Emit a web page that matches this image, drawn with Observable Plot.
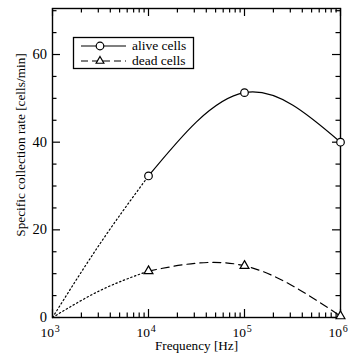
<!DOCTYPE html>
<html><head><meta charset="utf-8">
<script src="https://cdn.jsdelivr.net/npm/d3@7"></script>
<script src="https://cdn.jsdelivr.net/npm/@observablehq/plot@0.6"></script>
<style>
body{margin:0;background:#fff;}
#wrap{position:relative;width:360px;height:363px;}
</style></head><body><div id="wrap"></div>
<script>
// measured points
const frequencies = [1e4, 1e5, 1e6];
const aliveRates = [32.3, 51.3, 40.0];
const deadRates = [10.6, 11.8, 0.3];
// low-frequency (dotted) extrapolation
const lowFreq = [1e3, 3162, 1e4];
const aliveLowRates = [0, 17.0, 32.3];
const deadLowRates = [0, 6.2, 10.6];
// ticks
const xMajorTicks = [1e3, 1e4, 1e5, 1e6];
const xExponents = ["3", "4", "5", "6"];
const xMinorTicks = [2,3,4,5,6,7,8,9].flatMap(m => [1e3, 1e4, 1e5].map(d => m * d));
const yMajorTicks = [0, 20, 40, 60];
const yMinorTicks = [5,10,15,25,30,35,45,50,55,65,70];
const xLabel = "Frequency [Hz]";
const yLabel = "Specific collection rate [cells/min]";
const seriesNames = ["alive cells", "dead cells"];

const alive = frequencies.map((f, i) => ({f, v: aliveRates[i]}));
const dead = frequencies.map((f, i) => ({f, v: deadRates[i]}));
const aliveLow = lowFreq.map((f, i) => ({f, v: aliveLowRates[i]}));
const deadLow = lowFreq.map((f, i) => ({f, v: deadLowRates[i]}));

const X0 = 1e3, X1 = 1e6, Y0 = 0, Y1 = 70.5;
const W = 360, H = 363, mL = 52, mR = 20, mT = 8, mB = 46;
const pxPerDecade = (W - mL - mR) / 3;
const pxPerUnit = (H - mT - mB) / (Y1 - Y0);
const xf = px => Math.pow(10, px / pxPerDecade);
const yu = px => px / pxPerUnit;
const majL = 8, minL = 4.5;
const serif = "'Liberation Serif', 'Times New Roman', serif";
const sw = 1.2;

const chart = Plot.plot({
  width: W, height: H,
  marginLeft: mL, marginRight: mR, marginTop: mT, marginBottom: mB,
  style: {fontFamily: serif, background: "#fff", color: "#000"},
  x: {type: "log", domain: [X0, X1], axis: null},
  y: {domain: [Y0, Y1], axis: null},
  marks: [
    Plot.frame({stroke: "#000", strokeWidth: 1.4}),
    // bottom / top x ticks (inward)
    Plot.ruleX(xMajorTicks, {x: d => d, y1: Y0, y2: Y0 + yu(majL), stroke: "#000", strokeWidth: sw}),
    Plot.ruleX(xMinorTicks, {x: d => d, y1: Y0, y2: Y0 + yu(minL), stroke: "#000", strokeWidth: sw}),
    Plot.ruleX(xMajorTicks, {x: d => d, y1: Y1, y2: Y1 - yu(majL), stroke: "#000", strokeWidth: sw}),
    Plot.ruleX(xMinorTicks, {x: d => d, y1: Y1, y2: Y1 - yu(minL), stroke: "#000", strokeWidth: sw}),
    // left / right y ticks (inward)
    Plot.ruleY(yMajorTicks, {y: d => d, x1: X0, x2: X0 * xf(majL), stroke: "#000", strokeWidth: sw}),
    Plot.ruleY(yMinorTicks, {y: d => d, x1: X0, x2: X0 * xf(minL), stroke: "#000", strokeWidth: sw}),
    Plot.ruleY(yMajorTicks, {y: d => d, x1: X1, x2: X1 / xf(majL), stroke: "#000", strokeWidth: sw}),
    Plot.ruleY(yMinorTicks, {y: d => d, x1: X1, x2: X1 / xf(minL), stroke: "#000", strokeWidth: sw}),
    // tick labels
    Plot.text(xMajorTicks, {x: d => d, y: Y0, text: () => "10", textAnchor: "end", dx: 1.5, dy: 15.3, fontSize: 13.5}),
    Plot.text(xMajorTicks, {x: d => d, y: Y0, text: (d, i) => xExponents[i], textAnchor: "start", dx: 2.3, dy: 11.3, fontSize: 10}),
    Plot.text(yMajorTicks, {x: X0, y: d => d, text: d => String(d), textAnchor: "end", dx: -5.5, fontSize: 14.5}),
    // axis labels
    Plot.text([xLabel], {frameAnchor: "bottom", text: d => d, textAnchor: "middle", dy: 32.3, fontSize: 13.2}),
    Plot.text([yLabel], {frameAnchor: "left", text: d => d, textAnchor: "middle", rotate: -90, dx: -32, dy: -18, fontSize: 13.3}),
    // curves
    Plot.line(aliveLow, {x: "f", y: "v", curve: "natural", stroke: "#000", strokeWidth: sw, strokeDasharray: "1.4,2.6"}),
    Plot.line(deadLow, {x: "f", y: "v", curve: "natural", stroke: "#000", strokeWidth: sw, strokeDasharray: "1.4,2.6"}),
    Plot.line(alive, {x: "f", y: "v", curve: "natural", stroke: "#000", strokeWidth: sw}),
    Plot.line(dead, {x: "f", y: "v", curve: "natural", stroke: "#000", strokeWidth: sw, strokeDasharray: "8,5"}),
    Plot.dot(alive, {x: "f", y: "v", r: 3.8, fill: "#fff", stroke: "#000", strokeWidth: sw}),
    Plot.dot(dead, {x: "f", y: "v", r: 3.3, symbol: "triangle", fill: "#fff", stroke: "#000", strokeWidth: sw})
  ]
});
document.getElementById("wrap").appendChild(chart);

// legend box drawn into the same svg
const svg = d3.select(chart);
const lg = svg.append("g").attr("font-family", serif).attr("font-size", 13.5).attr("text-anchor", "start");
lg.append("rect").attr("x", 73.5).attr("y", 37.5).attr("width", 120).attr("height", 31)
  .attr("fill", "#fff").attr("stroke", "#000").attr("stroke-width", 1.3);
const rows = [{y: 46, dash: null}, {y: 61, dash: "7,4"}];
rows.forEach((r, i) => {
  lg.append("line").attr("x1", 81).attr("x2", 126).attr("y1", r.y).attr("y2", r.y)
    .attr("stroke", "#000").attr("stroke-width", sw).attr("stroke-dasharray", r.dash);
  if (i === 0) {
    lg.append("circle").attr("cx", 100).attr("cy", r.y).attr("r", 3.8)
      .attr("fill", "#fff").attr("stroke", "#000").attr("stroke-width", sw);
  } else {
    lg.append("path").attr("d", d3.symbol(d3.symbolTriangle, 26)())
      .attr("transform", `translate(100,${r.y})`)
      .attr("fill", "#fff").attr("stroke", "#000").attr("stroke-width", sw);
  }
  lg.append("text").attr("x", 132).attr("y", r.y).attr("dy", "0.32em").attr("fill", "#000").text(seriesNames[i]);
});
</script>
</body></html>
